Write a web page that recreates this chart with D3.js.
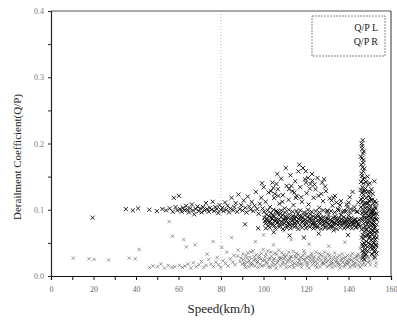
<!DOCTYPE html>
<html>
<head>
<meta charset="utf-8">
<script src="https://cdn.jsdelivr.net/npm/d3@7"></script>
<style>
  body { margin: 0; background: #fff; }
  svg { display: block; font-family: "Liberation Serif", "DejaVu Serif", serif; }
</style>
</head>
<body>
<div id="chart"></div>
<script>
// axis ticks
const xTicks = [0, 20, 40, 60, 80, 100, 120, 140, 160];
const yTicks = [0.0, 0.1, 0.2, 0.3, 0.4];
const seriesNames = ["Q/P L", "Q/P R"];

// Q/P L : [speed, coefficient]
const dataL = [
  [19.6,0.088],[35.2,0.101],[38.5,0.099],[41.0,0.102],[46.3,0.100],[49.8,0.098],[52.4,0.101],[54.1,0.099],[55.9,0.102],[57.3,0.097],[57.8,0.118],[58.6,0.104],[59.4,0.099],
  [60.2,0.121],[60.8,0.101],[61.5,0.097],[62.1,0.103],[62.9,0.099],[63.6,0.106],[64.2,0.100],[64.9,0.096],[65.5,0.102],[66.3,0.108],[66.8,0.099],[67.4,0.093],[68.1,0.101],[68.9,0.105],[69.5,0.098],[70.2,0.102],[70.9,0.096],[71.6,0.104],[72.3,0.099],[72.9,0.110],[73.5,0.101],[74.2,0.097],[74.8,0.103],[75.5,0.100],[76.1,0.112],[76.8,0.098],[77.4,0.104],[78.0,0.101],[78.7,0.095],[79.3,0.107],[79.9,0.100],
  [80.6,0.103],[81.2,0.098],[81.9,0.111],[82.5,0.100],[83.1,0.106],[83.8,0.096],[84.4,0.102],[85.0,0.118],[85.7,0.099],[86.3,0.104],[86.9,0.110],[87.6,0.097],[88.2,0.123],[88.8,0.101],[89.5,0.107],[90.1,0.099],[90.7,0.114],[91.4,0.103],[92.0,0.096],[92.6,0.120],[93.3,0.105],[93.9,0.100],[94.5,0.112],[95.2,0.098],[95.8,0.106],[96.4,0.127],[97.1,0.101],[97.7,0.094],[98.3,0.109],[99.0,0.118],[99.6,0.102],[99.3,0.140],[100.1,0.134],
  [100.4,0.088],[100.9,0.079],[101.3,0.093],[101.8,0.084],[102.2,0.076],[102.7,0.090],[103.1,0.082],[103.6,0.095],[104.0,0.086],[104.5,0.078],[104.9,0.091],[105.4,0.083],[105.8,0.087],[106.3,0.080],[106.7,0.094],[107.2,0.085],[107.6,0.077],[108.1,0.089],[108.5,0.082],[109.0,0.092],[109.4,0.086],[109.9,0.079],[110.3,0.090],[110.8,0.084],[111.2,0.076],[111.7,0.088],[112.1,0.093],[112.6,0.081],[113.0,0.087],[113.5,0.078],[113.9,0.091],[114.4,0.085],[114.8,0.080],[115.3,0.089],[115.7,0.083],[116.2,0.094],[116.6,0.086],[117.1,0.077],[117.5,0.090],[118.0,0.082],[118.4,0.088],[118.9,0.079],[119.3,0.092],[119.8,0.085],[120.2,0.081],[120.7,0.089],[121.1,0.076],[121.6,0.087],[122.0,0.093],[122.5,0.083],[122.9,0.078],[123.4,0.090],[123.8,0.085],[124.3,0.080],[124.7,0.088],[125.2,0.075],[125.6,0.084],[126.1,0.091],[126.5,0.079],[127.0,0.086],[127.4,0.082],[127.9,0.077],[128.3,0.089],[128.8,0.083],[129.2,0.074],[129.7,0.087],[130.1,0.080],[130.6,0.092],[131.0,0.078],[131.5,0.085],[131.9,0.082],[132.4,0.076],[132.8,0.088],[133.3,0.081],[133.7,0.090],[134.2,0.079],[134.6,0.085],[135.1,0.077],[135.5,0.087],[136.0,0.083],[136.4,0.092],[136.9,0.078],[137.3,0.084],[137.8,0.089],[138.2,0.080],[138.7,0.075],[139.1,0.086],[139.6,0.082],[140.0,0.091],[140.5,0.078],[140.9,0.084],[141.4,0.088],[141.8,0.077],[142.3,0.083],[142.7,0.080],[143.2,0.086],[143.6,0.074],[144.1,0.082],[144.5,0.079],[145.0,0.085],
  [100.7,0.083],[101.6,0.087],[102.5,0.081],[103.4,0.079],[104.3,0.092],[105.1,0.076],[106.0,0.085],[106.9,0.081],[107.9,0.094],[108.8,0.078],[109.7,0.084],[110.6,0.087],[111.5,0.080],[112.4,0.077],[113.3,0.083],[114.2,0.088],[115.1,0.076],[116.0,0.081],[116.9,0.091],[117.8,0.085],[118.7,0.083],[119.6,0.077],[120.5,0.094],[121.4,0.082],[122.3,0.087],[123.2,0.080],[124.1,0.076],[125.0,0.091],[125.9,0.081],[126.8,0.088],[127.7,0.084],[128.6,0.079],[129.5,0.081],[130.4,0.086],[131.3,0.075],[132.2,0.083],[133.1,0.078],[134.0,0.087],[134.9,0.081],[135.8,0.079],[136.7,0.086],[137.6,0.080],[138.5,0.083],[139.4,0.078],[140.3,0.086],[141.2,0.081],[142.1,0.079],[143.0,0.084],[143.9,0.081],[144.8,0.077],
  [100.2,0.097],[101.1,0.072],[102.0,0.099],[102.9,0.073],[103.8,0.088],[104.7,0.100],[105.6,0.072],[106.5,0.097],[107.4,0.074],[108.3,0.099],[109.2,0.071],[110.1,0.096],[111.0,0.073],[111.9,0.100],[112.8,0.072],[113.7,0.097],[114.6,0.074],[115.5,0.098],[116.4,0.071],[117.3,0.099],[118.2,0.073],[119.1,0.096],[120.0,0.072],[120.9,0.100],[121.8,0.074],[122.7,0.097],[123.6,0.072],[124.5,0.098],[125.4,0.073],[126.3,0.096],[127.2,0.071],[128.1,0.099],[129.0,0.073],[129.9,0.097],[130.8,0.072],[131.7,0.098],[132.6,0.074],[133.5,0.096],[134.4,0.071],[135.3,0.099],[136.2,0.073],[137.1,0.097],[138.0,0.072],[138.9,0.098],[139.8,0.074],[140.7,0.096],[141.6,0.072],[142.5,0.099],[143.4,0.073],[144.3,0.097],[145.2,0.075],
  [101.0,0.112],[102.4,0.126],[103.0,0.104],[104.2,0.141],[105.0,0.118],[105.9,0.098],[106.8,0.131],[107.5,0.109],[108.3,0.147],[109.1,0.122],[110.0,0.102],[110.9,0.136],[111.8,0.115],[112.7,0.152],[113.6,0.128],[114.1,0.107],[114.9,0.143],[115.6,0.121],[116.4,0.158],[117.3,0.134],[118.1,0.112],[118.6,0.163],[119.5,0.146],[120.3,0.125],[121.2,0.108],[122.1,0.139],[122.8,0.154],[123.6,0.118],[124.5,0.131],[125.4,0.148],[126.3,0.103],[127.2,0.124],[128.0,0.113],[129.0,0.135],[130.0,0.099],[131.2,0.117],[132.5,0.106],[133.6,0.121],[135.0,0.101],[136.5,0.113],[138.0,0.098],[139.2,0.108],[140.6,0.119],[141.9,0.127],[142.8,0.104],[143.9,0.097],[144.6,0.111],
  [103.5,0.128],[104.6,0.133],[105.3,0.124],[106.1,0.139],[107.0,0.121],[112.0,0.131],[113.1,0.136],[114.5,0.126],[115.2,0.118],[120.0,0.141],[121.0,0.148],[121.8,0.132],[123.0,0.144],[124.0,0.138],[127.6,0.141],[128.5,0.146],[129.4,0.128],[132.0,0.114],[133.0,0.118],[134.3,0.111],[139.5,0.104],[140.1,0.111],[141.0,0.101],[108.9,0.112],[117.8,0.119],[125.9,0.121],[136.0,0.107],[110.5,0.163],[116.9,0.168],[119.9,0.158],[106.5,0.154],
  [104.8,0.066],[112.3,0.061],[119.0,0.058],[126.0,0.064],[133.0,0.069],[139.8,0.062],[97.5,0.072],[91.3,0.078],
  [146.2,0.200],[146.5,0.192],[146.8,0.185],[146.4,0.178],[146.9,0.171],[146.6,0.164],[147.0,0.158],[146.3,0.151],[146.8,0.146],[147.1,0.140],[146.5,0.134],[146.9,0.129],[147.2,0.123],[146.7,0.118],[146.4,0.112],[147.0,0.107],[146.6,0.101],[147.3,0.096],[146.8,0.090],[146.5,0.084],[147.1,0.079],[146.9,0.073],[147.4,0.067],[146.7,0.062],[147.0,0.056],[147.3,0.050],[146.8,0.045],[147.5,0.040],[147.1,0.035],[147.6,0.030],[147.3,0.025],[146.2,0.155],[146.3,0.125],[146.4,0.095],[147.6,0.110],[147.5,0.088],
  [145.8,0.180],[146.0,0.168],[147.4,0.162],[145.9,0.142],[147.5,0.148],[145.7,0.130],[147.8,0.128],[145.9,0.116],[147.9,0.102],[145.8,0.104],[146.1,0.086],[148.0,0.074],[146.2,0.070],[146.3,0.058],[147.8,0.060],[146.5,0.048],[147.9,0.046],[146.6,0.038],[148.1,0.033],[146.9,0.028],[146.7,0.205],[146.4,0.196],[147.2,0.188],[147.0,0.175],
  [148.0,0.132],[148.3,0.118],[148.6,0.104],[148.1,0.095],[148.4,0.087],[148.8,0.078],[148.2,0.069],[148.7,0.061],[148.5,0.052],[149.0,0.044],[149.2,0.138],[149.5,0.121],[149.1,0.110],[149.6,0.099],[149.3,0.091],[149.8,0.083],[149.4,0.074],[149.9,0.066],[149.7,0.057],[150.1,0.048],[150.3,0.127],[150.6,0.115],[150.2,0.106],[150.8,0.097],[150.4,0.088],[150.9,0.080],[150.5,0.071],[151.0,0.063],[150.7,0.054],[151.2,0.041],[151.4,0.124],[151.7,0.109],[151.3,0.101],[151.9,0.092],[151.5,0.085],[152.0,0.077],[151.6,0.068],[152.1,0.059],[151.8,0.050],[152.3,0.036],[152.5,0.113],[152.8,0.102],[152.4,0.094],[152.9,0.086],[152.6,0.073],[153.0,0.064],[152.7,0.055],[153.1,0.045],[152.2,0.143],[149.0,0.150],[150.0,0.140],[148.9,0.088],[151.1,0.093],[149.9,0.102],[150.6,0.076],[151.8,0.082],[152.0,0.099],[148.4,0.110],[153.2,0.078],[153.3,0.094],
  [148.3,0.142],[149.1,0.127],[149.6,0.113],[150.2,0.118],[150.8,0.131],[151.2,0.115],[151.6,0.097],[152.2,0.087],[152.6,0.104],[153.1,0.110],[153.4,0.085],[153.5,0.068],[153.3,0.058],[152.9,0.047],[152.4,0.066],[151.9,0.072],[151.4,0.078],[150.9,0.089],[150.3,0.094],[149.7,0.090],[149.2,0.081],[148.7,0.096],[148.2,0.082],[148.6,0.070],[149.3,0.063],[150.0,0.059],[150.7,0.066],[151.3,0.056],[152.0,0.050],[152.7,0.040],[153.2,0.034],[149.5,0.050],[148.9,0.038],[150.4,0.043],[151.6,0.045],[152.5,0.028],[151.0,0.033]
];

// Q/P R : [speed, coefficient]
const dataR = [
  [10.5,0.027],[17.9,0.026],[20.3,0.025],[27.1,0.024],[36.8,0.027],[39.6,0.026],[41.5,0.040],[46.3,0.013],[48.0,0.015],[50.1,0.014],[51.7,0.018],[53.4,0.012],[55.2,0.016],[57.0,0.013],[58.3,0.014],[60.4,0.016],[61.8,0.013],[57.2,0.060],[62.5,0.055],[63.7,0.044],[55.6,0.082],
  [63.0,0.015],[64.5,0.018],[65.8,0.012],[67.0,0.020],[68.4,0.014],[69.6,0.017],[70.8,0.022],[71.9,0.013],[73.0,0.016],[74.2,0.025],[75.3,0.018],[76.5,0.014],[77.6,0.021],[78.8,0.017],[79.9,0.013],[81.0,0.023],[82.1,0.019],[83.3,0.015],[84.4,0.026],[85.5,0.021],[86.6,0.017],[87.8,0.030],[88.9,0.022],[90.0,0.018],[73.5,0.033],[78.2,0.028],[82.7,0.036],[86.1,0.031],[89.4,0.027],[67.8,0.047],[76.3,0.052],[80.4,0.043],[85.0,0.058],[88.0,0.039],
  [90.6,0.025],[91.2,0.017],[91.8,0.031],[92.4,0.021],[93.0,0.014],[93.6,0.028],[94.2,0.036],[94.8,0.019],[95.4,0.024],[96.0,0.015],[96.6,0.032],[97.2,0.022],[97.8,0.027],[98.4,0.018],[99.0,0.034],[99.6,0.023],[100.2,0.016],[100.8,0.029],[101.4,0.021],[102.0,0.038],[102.6,0.025],[103.2,0.013],[103.8,0.030],[104.4,0.020],[105.0,0.026],[105.6,0.017],[106.2,0.033],[106.8,0.023],[107.4,0.028],[108.0,0.015],[108.6,0.035],[109.2,0.021],[109.8,0.026],[110.4,0.018],[111.0,0.031],[111.6,0.024],[112.2,0.014],[112.8,0.029],[113.4,0.022],[114.0,0.037],[114.6,0.019],[115.2,0.027],[115.8,0.016],[116.4,0.032],[117.0,0.023],[117.6,0.028],[118.2,0.018],[118.8,0.025],[119.4,0.034],[120.0,0.020],[120.6,0.015],[121.2,0.029],[121.8,0.023],[122.4,0.031],[123.0,0.017],[123.6,0.026],[124.2,0.021],[124.8,0.036],[125.4,0.019],[126.0,0.028],[126.6,0.014],[127.2,0.024],[127.8,0.030],[128.4,0.018],[129.0,0.025],[129.6,0.021],[130.2,0.033],[130.8,0.016],[131.4,0.027],[132.0,0.022],[132.6,0.019],[133.2,0.029],[133.8,0.015],[134.4,0.024],[135.0,0.020],[135.6,0.031],[136.2,0.017],[136.8,0.026],[137.4,0.021],[138.0,0.014],[138.6,0.028],[139.2,0.023],[139.8,0.018],[140.4,0.025],[141.0,0.030],[141.6,0.016],[142.2,0.022],[142.8,0.027],[143.4,0.019],[144.0,0.024],[144.6,0.033],[145.2,0.021],[145.8,0.028],[146.4,0.017],[147.0,0.035],[147.6,0.024],[148.2,0.041],[148.8,0.029],[149.4,0.037],[150.0,0.022],[150.6,0.045],[151.2,0.031],[151.8,0.026],[152.4,0.038],[153.0,0.020],[153.2,0.050],
  [90.9,0.020],[92.1,0.027],[93.3,0.023],[94.5,0.016],[95.7,0.029],[96.9,0.020],[98.1,0.031],[99.3,0.015],[100.5,0.024],[101.7,0.019],[102.9,0.027],[104.1,0.016],[105.3,0.034],[106.5,0.020],[107.7,0.025],[108.9,0.018],[110.1,0.029],[111.3,0.021],[112.5,0.026],[113.7,0.017],[114.9,0.030],[116.1,0.020],[117.3,0.018],[118.5,0.031],[119.7,0.024],[120.9,0.019],[122.1,0.027],[123.3,0.022],[124.5,0.016],[125.7,0.024],[126.9,0.032],[128.1,0.020],[129.3,0.028],[130.5,0.023],[131.7,0.018],[132.9,0.025],[134.1,0.021],[135.3,0.017],[136.5,0.023],[137.7,0.027],[138.9,0.019],[140.1,0.021],[141.3,0.024],[142.5,0.018],[143.7,0.029],[144.9,0.016],[146.1,0.025],[147.3,0.020],[148.5,0.032],[149.7,0.027],[150.9,0.034],[152.1,0.029],
  [90.3,0.033],[91.5,0.013],[92.7,0.035],[93.9,0.019],[95.1,0.038],[96.3,0.025],[97.5,0.013],[98.7,0.026],[99.9,0.040],[101.1,0.033],[102.3,0.014],[103.5,0.036],[104.7,0.024],[105.9,0.012],[107.1,0.039],[108.3,0.027],[109.5,0.032],[110.7,0.013],[111.9,0.036],[113.1,0.029],[114.3,0.013],[115.5,0.034],[116.7,0.026],[117.9,0.013],[119.1,0.038],[120.3,0.028],[121.5,0.012],[122.7,0.034],[123.9,0.029],[125.1,0.013],[126.3,0.034],[127.5,0.019],[128.7,0.036],[129.9,0.014],[131.1,0.031],[132.3,0.013],[133.5,0.035],[134.7,0.028],[135.9,0.012],[137.1,0.033],[138.3,0.017],[139.5,0.031],[140.7,0.013],[141.9,0.034],[143.1,0.014],[144.3,0.030],[145.5,0.013],[146.7,0.031],[147.9,0.016],[149.1,0.021],[150.3,0.017],[151.5,0.040],[152.7,0.015],
  [96.2,0.052],[104.7,0.047],[113.0,0.055],[121.5,0.048],[130.7,0.045],[138.3,0.051],[145.5,0.042],[100.0,0.062],[109.5,0.068]
];

const width = 397, height = 322;
const margin = { top: 11, right: 6, bottom: 46, left: 51 };

const svg = d3.select("#chart").append("svg")
    .attr("width", width)
    .attr("height", height);

const x = d3.scaleLinear().domain([0, 160]).range([margin.left, width - margin.right]);
const y = d3.scaleLinear().domain([0, 0.4]).range([height - margin.bottom, margin.top]);

// dotted reference line at 80 km/h
svg.append("line")
    .attr("x1", x(80)).attr("x2", x(80))
    .attr("y1", y(0.4)).attr("y2", y(0))
    .attr("stroke", "#aaa")
    .attr("stroke-width", 0.8)
    .attr("stroke-dasharray", "1,2");

// frame: top grey, right dark
svg.append("line")
    .attr("x1", x(0)).attr("x2", x(160))
    .attr("y1", y(0.4)).attr("y2", y(0.4))
    .attr("stroke", "#555").attr("stroke-width", 1);
svg.append("line")
    .attr("x1", x(160)).attr("x2", x(160))
    .attr("y1", y(0.4)).attr("y2", y(0))
    .attr("stroke", "#333").attr("stroke-width", 1);

// markers: small x marks, scanned look
const timesR = d3.symbol().type(d3.symbolTimes).size(9);
const timesL = d3.symbol().type(d3.symbolTimes).size(13);

svg.append("g")
    .selectAll("path")
    .data(dataR)
    .enter()
    .append("path")
    .attr("d", timesR)
    .attr("transform", d => `translate(${x(d[0])},${y(d[1])})`)
    .attr("fill", "none")
    .attr("stroke", "#444")
    .attr("stroke-width", 0.7)
    .attr("opacity", 0.75);

svg.append("g")
    .selectAll("path")
    .data(dataL)
    .enter()
    .append("path")
    .attr("d", timesL)
    .attr("transform", d => `translate(${x(d[0])},${y(d[1])})`)
    .attr("fill", "none")
    .attr("stroke", "#000")
    .attr("stroke-width", 1)
    .attr("opacity", 0.85);

// axes
const xAxis = d3.axisBottom(x)
    .tickValues(d3.range(0, 161, 10))
    .tickFormat(d => xTicks.includes(d) ? d : "")
    .tickSize(4)
    .tickPadding(6);

const gx = svg.append("g")
    .attr("transform", `translate(0,${y(0)})`)
    .call(xAxis);
gx.select(".domain").attr("stroke", "#111").attr("stroke-width", 1.2);
gx.selectAll("line").attr("stroke", "#111");
gx.selectAll("text")
    .style("font-size", "8px")
    .attr("fill", "#666")
    .style("font-family", "Liberation Serif, serif");

const yAxis = d3.axisLeft(y)
    .tickValues(d3.range(0, 0.41, 0.05))
    .tickFormat(d => yTicks.some(t => Math.abs(t - d) < 1e-6) ? d3.format(".1f")(d) : "")
    .tickSize(3)
    .tickPadding(4);

const gy = svg.append("g")
    .attr("transform", `translate(${x(0)},0)`)
    .call(yAxis);
gy.select(".domain").attr("stroke", "#222").attr("stroke-width", 1.2);
gy.selectAll("line").attr("stroke", "#222");
gy.selectAll("text")
    .style("font-size", "8px")
    .attr("fill", "#777")
    .style("font-family", "Liberation Serif, serif");

// axis titles
svg.append("text")
    .attr("x", x(80))
    .attr("y", 313)
    .attr("text-anchor", "middle")
    .style("font-size", "13px")
    .attr("fill", "#222")
    .text("Speed(km/h)");

svg.append("text")
    .attr("transform", `translate(21,157) rotate(-90)`)
    .attr("text-anchor", "middle")
    .style("font-size", "11px")
    .attr("fill", "#222")
    .text("Derailment Coefficient(Q/P)");

// legend
const legend = svg.append("g");
legend.append("rect")
    .attr("x", 312).attr("y", 16)
    .attr("width", 73).attr("height", 40)
    .attr("fill", "#fff")
    .attr("stroke", "#555")
    .attr("stroke-width", 0.7)
    .attr("stroke-dasharray", "2,1");

legend.selectAll(".legend-label")
    .data(seriesNames)
    .enter()
    .append("text")
    .attr("class", "legend-label")
    .attr("x", 378)
    .attr("y", (d, i) => 31 + i * 14)
    .attr("text-anchor", "end")
    .style("font-size", "10px")
    .attr("fill", "#222")
    .text(d => d);
</script>
</body>
</html>
